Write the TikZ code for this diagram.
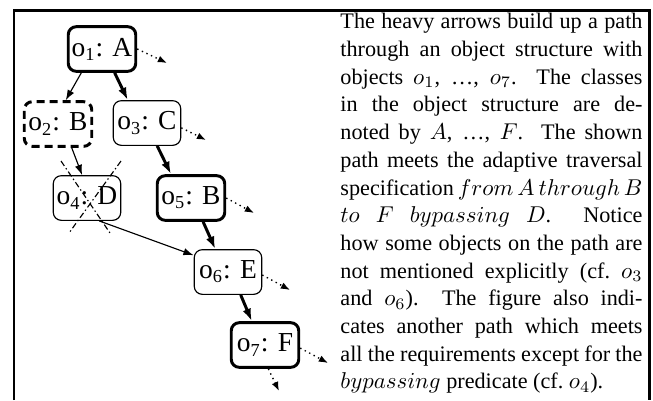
\documentclass[tikz,border=0pt]{standalone}
\usepackage{fontspec}
\setmainfont{Liberation Serif}
\usetikzlibrary{arrows.meta,calc}

\tikzset{
  obj/.style={draw, rounded corners=3.5pt, line width=0.5pt, minimum width=29.5pt,
    minimum height=19.5pt, inner sep=1pt, font=\fontsize{12}{14}\selectfont},
  heavyobj/.style={obj, line width=1.3pt},
  hiddenobj/.style={obj, line width=1.3pt, dash pattern=on 3.5pt off 2.2pt},
  link/.style={-{Latex[length=4.5pt,width=3.2pt]}, line width=0.5pt},
  heavylink/.style={-{Latex[length=5.5pt,width=3.8pt]}, line width=1.3pt},
  outlink/.style={-{Latex[length=4pt,width=3pt]}, line width=0.6pt, dash pattern=on 0.6pt off 1.6pt},
  strike/.style={line width=0.5pt, dash pattern=on 2.6pt off 1.2pt on 0.6pt off 1.2pt},
}

\begin{document}
\begin{tikzpicture}[x=0.437pt, y=-0.437pt]
    % Fix the page size
    \useasboundingbox (0,0) rectangle (653,400);

    % Draw the open frame
    \draw[line width=1.3pt] (14,400) -- (14,10.5) -- (649,10.5) -- (649,400);

    % Place the objects
    \node[heavyobj]  (o1) at (102,49)  {o\textsubscript{1}: A};
    \node[hiddenobj] (o2) at (58,124)  {o\textsubscript{2}: B};
    \node[obj]       (o3) at (147,123) {o\textsubscript{3}: C};
    \node[obj]       (o4) at (87,198)  {o\textsubscript{4}: D};
    \node[heavyobj]  (o5) at (191,198) {o\textsubscript{5}: B};
    \node[obj]       (o6) at (228,272) {o\textsubscript{6}: E};
    \node[heavyobj]  (o7) at (265,345) {o\textsubscript{7}: F};

    % Free ends of the outgoing links
    \coordinate (o1out) at (167,63);
    \coordinate (o3out) at (206,140);
    \coordinate (o5out) at (254,213);
    \coordinate (o6out) at (290,290);
    \coordinate (o7out) at (328,363);
    \coordinate (o7down) at (279,391);

    % Draw the heavy path
    \draw[heavylink] (o1.-62) -- (o3.130);
    \draw[heavylink] (o3.-66) -- (o5.130);
    \draw[heavylink] (o5.-63) -- (o6.119);
    \draw[heavylink] (o6.-61) -- (o7.119);

    % Draw the other path
    \draw[link] (o1.-131) -- (o2.72);
    \draw[link] (o2.-60) -- (o4.102);
    \draw[link] (o4.-62) -- (o6.154);

    % Draw the links that leave the picture
    \draw[outlink] (o1.east) -- (o1out);
    \draw[outlink] (o3.-8) -- (o3out);
    \draw[outlink] (o5.east) -- (o5out);
    \draw[outlink] (o6.-5) -- (o6out);
    \draw[outlink] (o7.-5) -- (o7out);
    \draw[outlink] (o7.-82) -- (o7down);

    % Cross out the bypassed object
    \draw[strike] ([shift={(-26,-37)}]o4.center) -- ([shift={(23,35)}]o4.center);
    \draw[strike] ([shift={(34,-37)}]o4.center) -- ([shift={(-18,35)}]o4.center);

    % The explanation beside the figure
    \node[anchor=north west, text width=132pt, align=justify, inner sep=0pt,
          font=\fontsize{9.7}{12.1}\selectfont] (caption) at (340,13)
    {\tolerance=10000\hyphenpenalty=10000
     The heavy arrows build up a path\linebreak
     through an object structure with\linebreak
     objects $o_1$, \ldots, $o_7$.\ \ The classes\linebreak
     in the object structure are de-\linebreak
     noted by $A$, \ldots, $F$.\ \ The shown\linebreak
     path meets the adaptive traversal\linebreak
     specification $from$ $A$ $through$ $B$\linebreak
     $to$ $F$ $bypassing$ $D$.\ \ Notice\linebreak
     how some objects on the path are\linebreak
     not mentioned explicitly (cf.\ $o_3$\linebreak
     and $o_6$).\ \ The figure also indi-\linebreak
     cates another path which meets\linebreak
     all the requirements except for the\linebreak
     $bypassing$ predicate (cf.\ $o_4$).};
\end{tikzpicture}
\end{document}
